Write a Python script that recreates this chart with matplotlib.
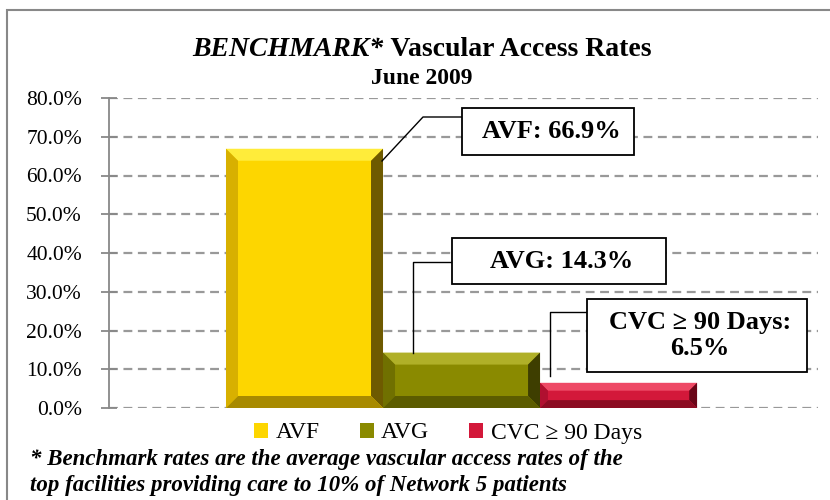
import numpy as np
import matplotlib.pyplot as plt
from matplotlib.patches import Polygon, Rectangle

plt.rcParams['font.family'] = ['Liberation Serif', 'DejaVu Serif']

categories = ["AVF", "AVG", "CVC \u2265 90 Days"]
rates = [66.9, 14.3, 6.5]
label_text = ["AVF: 66.9%", "AVG: 14.3%", "CVC \u2265 90 Days:\n6.5%"]
yticks = [0, 10, 20, 30, 40, 50, 60, 70, 80]

# face, top, left, right, bottom shades for the bevelled bars
shades = [
    ["#FDD600", "#FFEC3A", "#D8B000", "#6E5A00", "#A88A00"],
    ["#8A8A00", "#B0B028", "#707000", "#3E3E00", "#5C5C00"],
    ["#D3183A", "#EE4A66", "#B01030", "#6A0618", "#8C0C22"],
]

fig = plt.figure(figsize=(8.3, 5), dpi=100)
ax = fig.add_axes([109/830, 1-408/500, 709/830, 310/500])

x = np.arange(len(rates))
bars = ax.bar(x, rates, width=1.0, color=[s[0] for s in shades], linewidth=0,
              zorder=3)
ax.set_xlim(-1.245, 3.270)
ax.set_ylim(0, 80)

# bevel edges
fig.canvas.draw()
dx_px = (ax.get_xlim()[1]-ax.get_xlim()[0]) / 709
dy_px = 80 / 310
for b, s in zip(bars, shades):
    x0, x1 = b.get_x(), b.get_x()+b.get_width()
    y0, y1 = 0, b.get_height()
    hpx = y1 / dy_px
    bev = min(12, hpx/3.2)
    bx, by = bev*dx_px, bev*dy_px
    ix0, ix1, iy0, iy1 = x0+bx, x1-bx, y0+by, y1-by
    for pts, c in [
        ([(x0, y1), (x1, y1), (ix1, iy1), (ix0, iy1)], s[1]),
        ([(x0, y0), (x0, y1), (ix0, iy1), (ix0, iy0)], s[2]),
        ([(x1, y0), (x1, y1), (ix1, iy1), (ix1, iy0)], s[3]),
        ([(x0, y0), (x1, y0), (ix1, iy0), (ix0, iy0)], s[4]),
    ]:
        ax.add_patch(Polygon(pts, closed=True, facecolor=c, edgecolor='none',
                             zorder=3.5))

ax.set_yticks(yticks)
ax.set_yticklabels([f"{v:.1f}%" for v in yticks], fontsize=15.5)
ax.set_xticks([])
ax.yaxis.grid(True, linestyle=(0, (4, 2.5)), color='#999999', linewidth=1.6)
ax.set_axisbelow(True)
for sp in ['top', 'right', 'bottom']:
    ax.spines[sp].set_visible(False)
ax.spines['left'].set_color('#888888')
ax.spines['left'].set_linewidth(1.3)
ax.tick_params(axis='y', colors='#888888', labelcolor='black', length=11,
               width=1.3, direction='inout', pad=14)


def p2d(px, py):
    return ax.transData.inverted().transform((px, 500-py))


# data label boxes (pixel layout) and leader lines
boxes = [(462, 108, 634, 155), (452, 238, 666, 284), (587, 299, 807, 372)]
leaders = [
    [(382, 161), (423, 117), (462, 117)],
    [(413, 353), (413, 262), (452, 262)],
    [(550, 376), (550, 312), (587, 312)],
]
for (l, t, r, bt), txt, lead in zip(boxes, label_text, leaders):
    (dl, db) = p2d(l, bt)
    (dr, dt) = p2d(r, t)
    ax.add_patch(Rectangle((dl, db), dr-dl, dt-db, facecolor='white',
                           edgecolor='black', linewidth=1.3, zorder=5,
                           clip_on=False))
    ax.text((dl+dr)/2 + 3*dx_px, (db+dt)/2, txt, ha='center', va='center',
            fontsize=19, fontweight='bold', zorder=6, linespacing=1.15)
    pts = np.array([p2d(*p) for p in lead])
    ax.plot(pts[:, 0], pts[:, 1], color='black', linewidth=1.0, zorder=4.5,
            clip_on=False)

# title: italic part + upright part, centred together
r = fig.canvas.get_renderer()
t1 = fig.text(0, 1-56/500, "BENCHMARK*", ha='left', va='baseline',
              fontsize=20, fontweight='bold', fontstyle='italic')
t2 = fig.text(0, 1-56/500, " Vascular Access Rates", ha='left',
              va='baseline', fontsize=20, fontweight='bold')
w1 = t1.get_window_extent(r).width
w2 = t2.get_window_extent(r).width
start = 422 - (w1+w2)/2
t1.set_x(start/830)
t2.set_x((start+w1)/830)
fig.text(422/830, 1-84/500, "June 2009", ha='center', va='baseline',
         fontsize=17, fontweight='bold')

leg = ax.legend(bars, categories, loc='center', bbox_to_anchor=(448/830, 1-433/500),
                bbox_transform=fig.transFigure, ncol=3, frameon=False,
                fontsize=17, handlelength=0.6, handleheight=0.6,
                handletextpad=0.3, columnspacing=1.7)

fig.text(30/830, 1-460/500,
         "* Benchmark rates are the average vascular access rates of the",
         ha='left', va='center', fontsize=16.5, fontweight='bold',
         fontstyle='italic')
fig.text(30/830, 1-486/500,
         "top facilities providing care to 10% of Network 5 patients",
         ha='left', va='center', fontsize=16.5, fontweight='bold',
         fontstyle='italic')

fig.patches.append(Rectangle((7/830, -0.02), 1.0, 1-10/500+0.02,
                             transform=fig.transFigure, fill=False,
                             edgecolor='#888888', linewidth=1.5))

fig.savefig('out.png', dpi=100)
